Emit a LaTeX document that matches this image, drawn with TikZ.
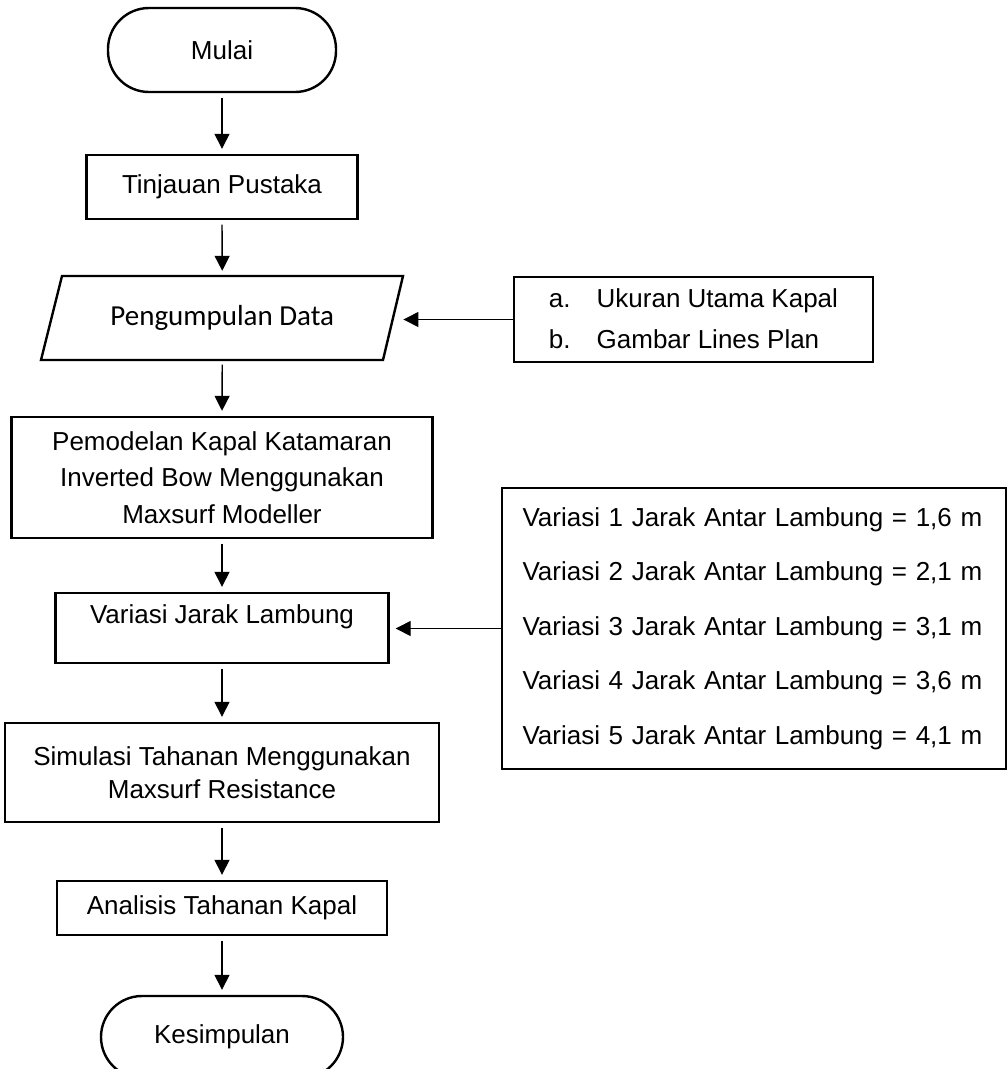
\documentclass[tikz,border=0pt]{standalone}
\usepackage{fontspec}
\setmainfont{Liberation Sans}
\newfontfamily\calib{Carlito}
\usetikzlibrary{arrows.meta,calc}
\begin{document}
\begin{tikzpicture}[x=1pt,y=-1pt,
  boxst/.style={draw, line width=2.4pt, inner sep=0pt, align=center, font=\fontsize{26}{36.7}\selectfont},
  termst/.style={boxst, rounded corners=41pt},
  arr/.style={line width=1.4pt, -{Triangle[width=15pt,length=15pt]}, shorten <=4.5pt, shorten >=5pt},
  sidearr/.style={line width=1.4pt, -{Triangle[width=15pt,length=15pt]}},
  txt/.style={inner sep=0pt, align=center, font=\fontsize{26}{36.7}\selectfont}]
\useasboundingbox (0,0) rectangle (1008,1069);

\node[termst, minimum width=228pt, minimum height=84pt] (mulai) at (222,50) {Mulai};
\node[boxst, minimum width=271pt, minimum height=64pt] (tp) at (222,187) {Tinjauan Pustaka};

\node[inner sep=0pt, minimum width=362pt, minimum height=84pt, font=\calib\fontsize{29}{35}\selectfont] (pd) at (222.25,318) {Pengumpulan Data};
\draw[line width=2.4pt, line join=miter] (62,276) -- (403,276) -- (383,360) -- (41,360) -- cycle;

\node[boxst, minimum width=359pt, minimum height=85pt, font=\fontsize{26}{41.5}\selectfont] (ab) at (693.5,319.5)
  {\begin{tabular}{@{}l@{\hspace{26pt}}l@{}}a. & Ukuran Utama Kapal\\ b. & Gambar Lines Plan\end{tabular}};

\node[boxst, minimum width=421pt, minimum height=121pt] (pm) at (222,477.5)
  {Pemodelan Kapal Katamaran\\ Inverted Bow Menggunakan\\ Maxsurf Modeller};

\node[boxst, minimum width=333pt, minimum height=70pt] (vjl) at (222,628) {};
\node[txt] (vjlt) at ($(vjl.center)+(0,-11)$) {Variasi Jarak Lambung};

\node[draw, line width=2.4pt, minimum width=504pt, minimum height=281pt, text width=463pt, align=left, inner sep=0pt, font=\fontsize{26}{54.5}\selectfont] (var) at (754,628.5)
  {Variasi 1 Jarak Antar Lambung = 1,6 m\\
   Variasi 2 Jarak Antar Lambung = 2,1 m\\
   Variasi 3 Jarak Antar Lambung = 3,1 m\\
   Variasi 4 Jarak Antar Lambung = 3,6 m\\
   Variasi 5 Jarak Antar Lambung = 4,1 m};

\node[boxst, minimum width=434pt, minimum height=99pt, font=\fontsize{26}{33.3}\selectfont] (sim) at (222,772.5)
  {Simulasi Tahanan Menggunakan\\ Maxsurf Resistance};
\node[boxst, minimum width=330pt, minimum height=54pt] (an) at (222,908) {Analisis Tahanan Kapal};
\node[termst, minimum width=242pt, minimum height=82pt] (kes) at (222,1037) {Kesimpulan};

\draw[arr] (mulai.south) -- (tp.north);
\draw[arr] (tp.south) -- (pd.north);
\draw[arr] (pd.south) -- (pm.north);
\draw[arr] (pm.south) -- (vjl.north);
\draw[arr] (vjl.south) -- (sim.north);
\draw[arr] (sim.south) -- (an.north);
\draw[arr] (an.south) -- (kes.north);

\draw[sidearr] (ab.west) -- (ab.west -| pd.east);
\draw[sidearr, shorten >=6pt] (var.west) -- (var.west -| vjl.east);
\end{tikzpicture}
\end{document}
